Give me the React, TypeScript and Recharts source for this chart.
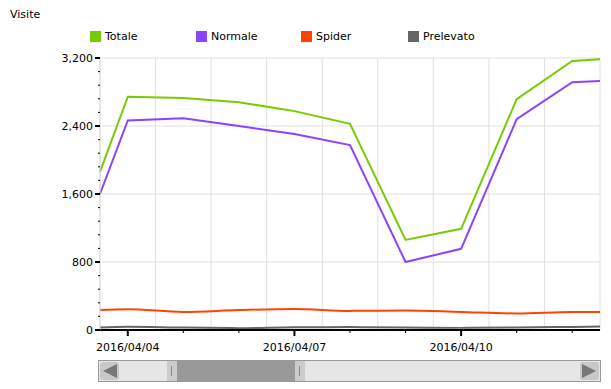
import React from 'react';
import { LineChart, Line, XAxis, YAxis, CartesianGrid, Legend } from 'recharts';

// day offsets from 2016/04/04 (view starts/ends half a day off)
const days = [-0.5, 0, 1, 2, 3, 4, 5, 6, 7, 8, 8.5];
const totale = [1860, 2745, 2730, 2680, 2575, 2425, 1060, 1190, 2715, 3165, 3185];
const normale = [1600, 2465, 2490, 2400, 2305, 2175, 800, 955, 2480, 2915, 2930];
const spider = [235, 245, 212, 235, 247, 225, 230, 212, 195, 212, 212];
const prelevato = [30, 38, 28, 22, 32, 34, 30, 25, 30, 36, 40];

const xTicks = [0, 1, 2, 3, 4, 5, 6, 7, 8];
const xLabels: Record<number, string> = { 0: '2016/04/04', 3: '2016/04/07', 6: '2016/04/10' };
const yTicks = Array.from({ length: 21 }, (_, i) => i * 160);
const gridDays = [0, 1, 2, 3, 4, 5, 6, 7];

const series = [
  { key: 'totale', name: 'Totale', color: '#77cc00', legendX: 90 },
  { key: 'normale', name: 'Normale', color: '#8844ff', legendX: 196 },
  { key: 'spider', name: 'Spider', color: '#ff4400', legendX: 301 },
  { key: 'prelevato', name: 'Prelevato', color: '#666666', legendX: 408 },
];

const data = days.map((d, i) => ({
  day: d,
  totale: totale[i],
  normale: normale[i],
  spider: spider[i],
  prelevato: prelevato[i],
}));

const FONT = '"DejaVu Sans", Verdana, sans-serif';

const XTick = ({ x, y, payload }: any) => {
  const label = xLabels[payload.value];
  return (
    <g>
      <line x1={x} x2={x} y1={y} y2={y + (label ? 6 : 3)} stroke="#000" strokeWidth={label ? 2 : 1} />
      {label && (
        <text x={x} y={y + 21} textAnchor="middle" fontSize={11} fontFamily={FONT} fill="#000">
          {label}
        </text>
      )}
    </g>
  );
};

const YTick = ({ x, y, payload }: any) => {
  const major = payload.value % 800 === 0;
  return (
    <g>
      <line x1={x - (major ? 5 : 2)} x2={x} y1={y} y2={y} stroke="#000" strokeWidth={major ? 2 : 1} />
      {major && (
        <text x={x - 7} y={y + 4} textAnchor="end" fontSize={11} fontFamily={FONT} fill="#000">
          {payload.value.toLocaleString('en-US')}
        </text>
      )}
    </g>
  );
};

const LegendContent = () => (
  <div style={{ position: 'relative', height: 14, fontFamily: FONT, fontSize: 11 }}>
    {series.map(s => (
      <div key={s.key} style={{ position: 'absolute', left: s.legendX, top: 0, display: 'flex', alignItems: 'center' }}>
        <div style={{ width: 11, height: 11, background: s.color, marginRight: 4 }} />
        <span>{s.name}</span>
      </div>
    ))}
  </div>
);

const Scrollbar = () => (
  <div style={{ position: 'absolute', left: 98, top: 360, width: 501, height: 20, border: '1px solid #999', background: '#e6e6e6' }}>
    <div style={{ position: 'absolute', left: 1, top: 1, width: 19, height: 18, background: '#c8c8c8', borderRadius: 3 }}>
      <svg width={19} height={18}>
        <polygon points="3,9 17,2 17,16" fill="#777" />
      </svg>
    </div>
    <div style={{ position: 'absolute', left: 68, top: 0, width: 10, height: 20, background: '#ccc' }}>
      <div style={{ position: 'absolute', left: 4, top: 5, width: 1, height: 10, background: '#888' }} />
    </div>
    <div style={{ position: 'absolute', left: 78, top: 0, width: 118, height: 20, background: '#999' }} />
    <div style={{ position: 'absolute', left: 196, top: 0, width: 10, height: 20, background: '#ccc' }}>
      <div style={{ position: 'absolute', left: 4, top: 5, width: 1, height: 10, background: '#888' }} />
    </div>
    <div style={{ position: 'absolute', left: 481, top: 1, width: 19, height: 18, background: '#c8c8c8', borderRadius: 3 }}>
      <svg width={19} height={18}>
        <polygon points="16,9 2,2 2,16" fill="#777" />
      </svg>
    </div>
  </div>
);

export default function App() {
  return (
    <div style={{ position: 'absolute', left: 0, top: 0, width: 611, height: 389, background: '#fff', fontFamily: FONT }}>
      <div style={{ position: 'absolute', left: 10, top: 8, fontSize: 11 }}>Visite</div>
      <LineChart
        width={611}
        height={389}
        data={data}
        margin={{ top: 44, right: 11, left: 40, bottom: 29 }}
      >
        <CartesianGrid
          stroke="#e0e0e0"
          horizontalCoordinatesGenerator={({ offset }: any) =>
            [0, 800, 1600, 2400, 3200].map(v => offset.top + offset.height * (1 - v / 3200))
          }
          verticalCoordinatesGenerator={({ offset }: any) =>
            [...gridDays.map(d => offset.left + ((d + 1) * offset.width) / 9), offset.left, offset.left + offset.width]
          }
        />
        <XAxis
          dataKey="day"
          type="number"
          domain={[-0.5, 8.5]}
          ticks={xTicks}
          interval={0}
          height={30}
          tickSize={0}
          tickMargin={0}
          tick={<XTick />}
          axisLine={{ stroke: '#000', strokeWidth: 2 }}
          tickLine={false}
        />
        <YAxis
          domain={[0, 3200]}
          ticks={yTicks}
          interval={0}
          width={60}
          tickSize={0}
          tickMargin={0}
          tick={<YTick />}
          axisLine={{ stroke: '#d8d8d8' }}
          tickLine={false}
        />
        <Legend
          verticalAlign="top"
          content={<LegendContent />}
          wrapperStyle={{ position: 'absolute', top: 30, left: 0, width: 611 }}
        />
        <Line type="linear" dataKey="totale" name="Totale" stroke="#77cc00" strokeWidth={2} dot={false} isAnimationActive={false} />
        <Line type="linear" dataKey="normale" name="Normale" stroke="#8844ff" strokeWidth={2} dot={false} isAnimationActive={false} />
        <Line type="monotone" dataKey="spider" name="Spider" stroke="#ff4400" strokeWidth={2} dot={false} isAnimationActive={false} />
        <Line type="monotone" dataKey="prelevato" name="Prelevato" stroke="#666666" strokeWidth={2} dot={false} isAnimationActive={false} />
      </LineChart>
      <Scrollbar />
    </div>
  );
}
